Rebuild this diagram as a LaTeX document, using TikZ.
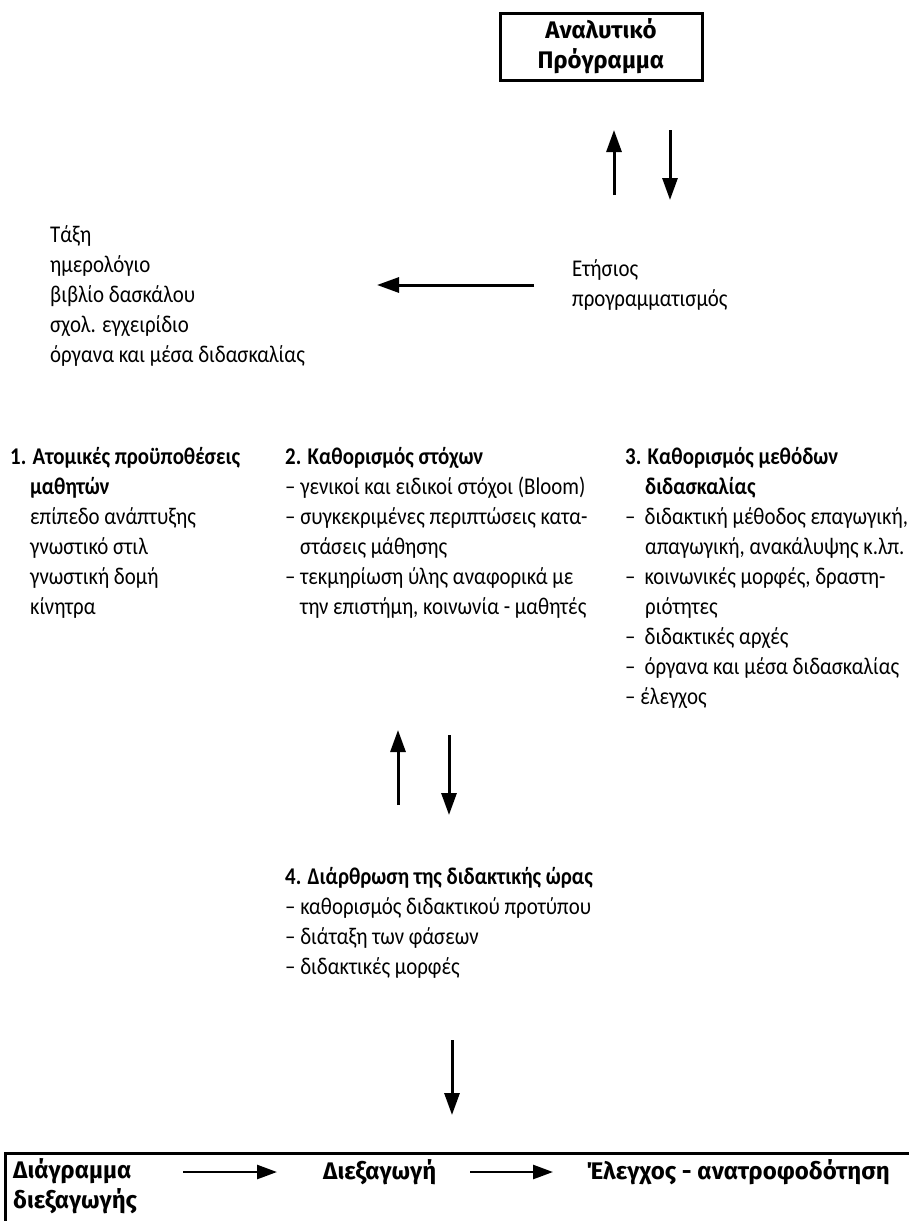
\documentclass[tikz,border=0pt]{standalone}
\usepackage{fontspec}
\setmainfont{Carlito}[FakeStretch=0.87]
\newfontfamily\boxfont{Fira Sans}
\usetikzlibrary{arrows.meta}
\tikzset{
  txt/.style={inner sep=0pt, align=left, font=\fontsize{24}{30}\selectfont},
  boxtxt/.style={inner sep=0pt, align=left, font=\boxfont\bfseries\fontsize{24}{30}\selectfont},
  bigarrow/.style={line width=3pt, -{Triangle[length=22pt,width=15pt]}},
  smallarrow/.style={line width=2.6pt, -{Triangle[length=20pt,width=14pt]}},
  framebox/.style={draw, line width=3pt, inner sep=0pt, align=center,
    minimum width=202pt, minimum height=67pt,
    font=\boxfont\bfseries\fontsize{24}{30}\selectfont}
}
\begin{document}
\begin{tikzpicture}[x=1pt,y=-1pt]
\useasboundingbox[fill=white] (0,0) rectangle (909,1221);

% top box
\node[framebox] (syl) at (601,46.5) {Αναλυτικό\\Πρόγραμμα};

% up/down arrows between box and annual plan
\coordinate (u1s) at (614,195);
\coordinate (u1e) at (614,130);
\coordinate (d1s) at (670,130);
\coordinate (d1e) at (670,200);
\draw[bigarrow] (u1s) -- (u1e);
\draw[bigarrow] (d1s) -- (d1e);

% annual plan and its resources
\node[txt, anchor=west] (annual) at (572,285) {Ετήσιος\\προγραμματισμός};
\node[txt, anchor=west] (tools) at (50,296) {Τάξη\\ημερολόγιο\\βιβλίο δασκάλου\\σχολ. εγχειρίδιο\\όργανα και μέσα διδασκαλίας};
\draw[bigarrow, shorten <=38pt] (annual.west) -- (annual.west -| 377,0);

% three columns
\node[txt, anchor=north west] (c1) at (10,447) {\textbf{1. Ατομικές προϋποθέσεις}\\
\hspace*{20pt}\textbf{μαθητών}\\
\hspace*{20pt}επίπεδο ανάπτυξης\\
\hspace*{20pt}γνωστικό στιλ\\
\hspace*{20pt}γνωστική δομή\\
\hspace*{20pt}κίνητρα};

\node[txt, anchor=north west] (c2) at (285,447) {\textbf{2. Καθορισμός στόχων}\\
– γενικοί και ειδικοί στόχοι (Bloom)\\
– συγκεκριμένες περιπτώσεις κατα-\\
\hspace*{15pt}στάσεις μάθησης\\
– τεκμηρίωση ύλης αναφορικά με\\
\hspace*{15pt}την επιστήμη, κοινωνία - μαθητές};

\node[txt, anchor=north west] (c3) at (625,447) {\textbf{3. Καθορισμός μεθόδων}\\
\hspace*{20pt}\textbf{διδασκαλίας}\\
–\hspace*{9pt}διδακτική μέθοδος επαγωγική,\\
\hspace*{20pt}απαγωγική, ανακάλυψης κ.λπ.\\
–\hspace*{9pt}κοινωνικές μορφές, δραστη-\\
\hspace*{20pt}ριότητες\\
–\hspace*{9pt}διδακτικές αρχές\\
–\hspace*{9pt}όργανα και μέσα διδασκαλίας\\
– έλεγχος};

% middle arrows
\coordinate (u2s) at (398,805);
\coordinate (u2e) at (398,730);
\coordinate (d2s) at (449,735);
\coordinate (d2e) at (449,815);
\draw[bigarrow] (u2s) -- (u2e);
\draw[bigarrow] (d2s) -- (d2e);

% lesson structure
\node[txt, anchor=north west] (c4) at (285,867) {\textbf{4. Διάρθρωση της διδακτικής ώρας}\\
– καθορισμός διδακτικού προτύπου\\
– διάταξη των φάσεων\\
– διδακτικές μορφές};

\coordinate (d3s) at (452,1040);
\coordinate (d3e) at (452,1115);
\draw[bigarrow] (d3s) -- (d3e);

% bottom frame
\draw[line width=3pt] (5,1225) -- (5,1153) -- (912,1153);
\node[boxtxt, anchor=north west] (diag) at (13,1158) {Διάγραμμα\\διεξαγωγής};
\node[boxtxt, anchor=west] (exec) at (323,1172) {Διεξαγωγή};
\node[boxtxt, anchor=west] (eval) at (586,1172) {Έλεγχος - ανατροφοδότηση};
\draw[smallarrow] ([xshift=-140pt]exec.west) -- ([xshift=-46pt]exec.west);
\draw[smallarrow] ([xshift=-116pt]eval.west) -- ([xshift=-33pt]eval.west);
\end{tikzpicture}
\end{document}
